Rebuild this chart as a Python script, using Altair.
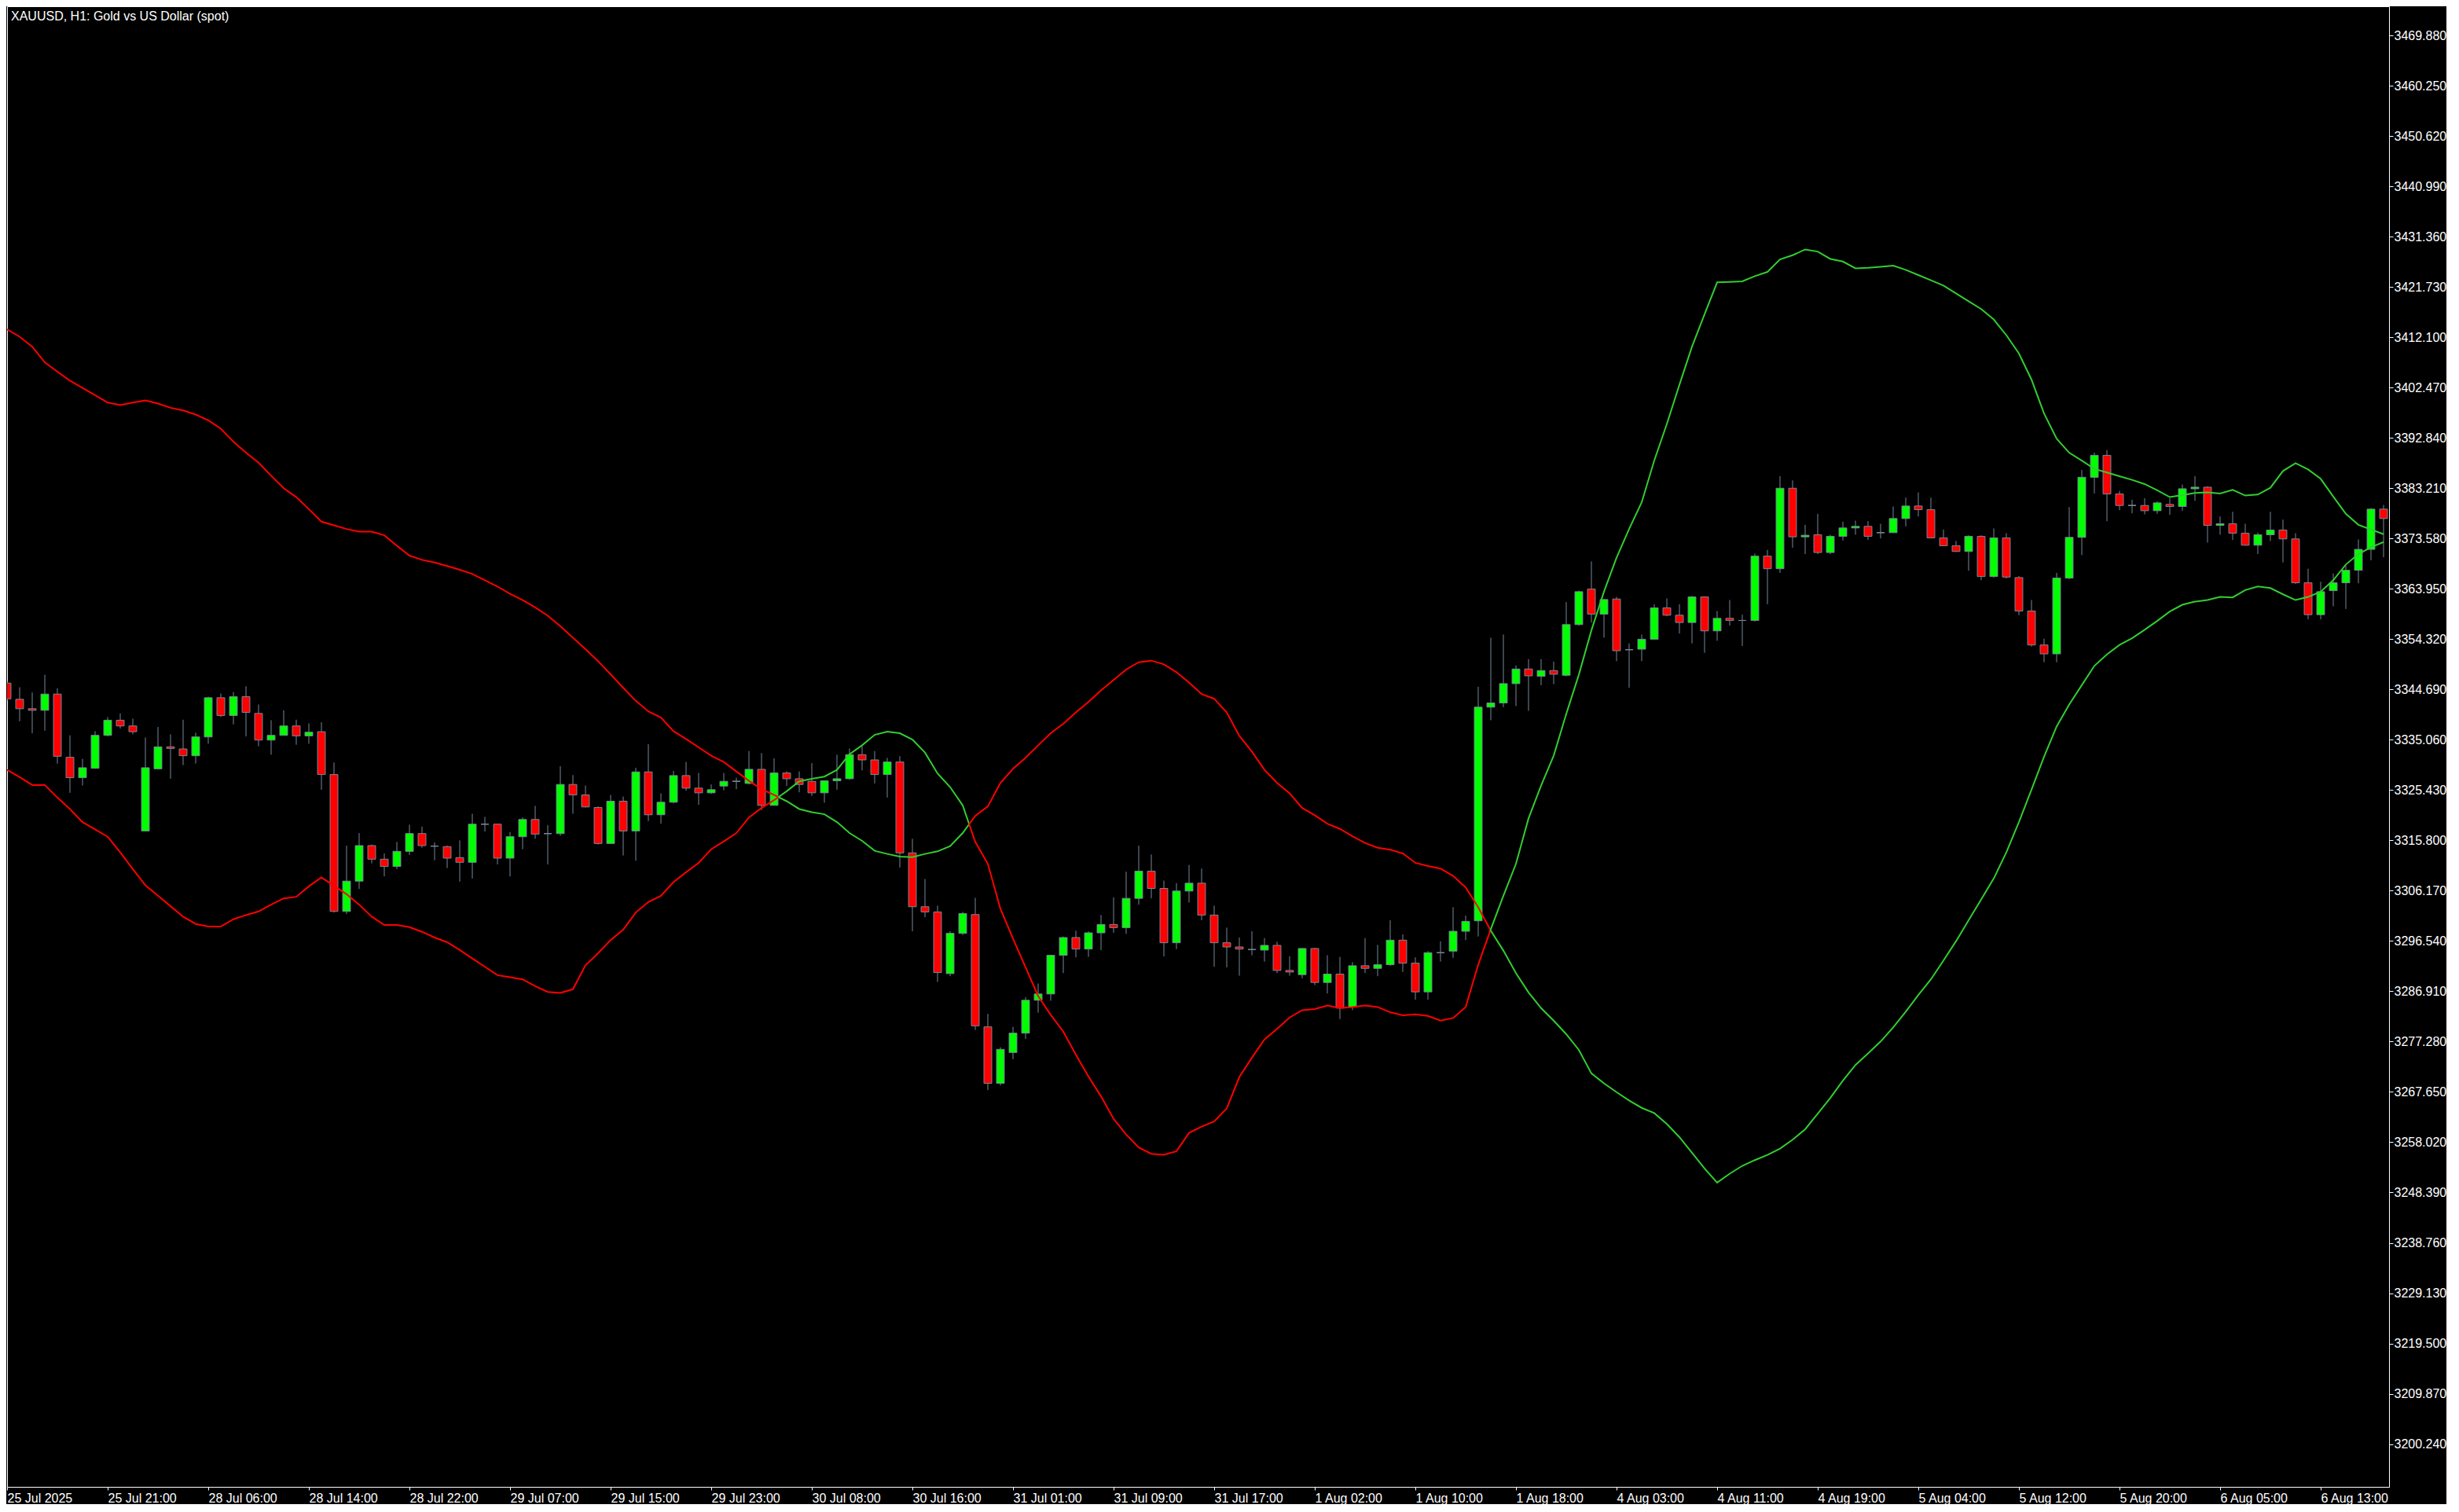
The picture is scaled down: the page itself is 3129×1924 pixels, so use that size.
import json
import altair as alt
import pandas as pd

TITLE = "XAUUSD, H1:  Gold vs US Dollar (spot)"

X_LABELS = ["25 Jul 2025", "25 Jul 21:00", "28 Jul 06:00", "28 Jul 14:00", "28 Jul 22:00",
            "29 Jul 07:00", "29 Jul 15:00", "29 Jul 23:00", "30 Jul 08:00", "30 Jul 16:00",
            "31 Jul 01:00", "31 Jul 09:00", "31 Jul 17:00", "1 Aug 02:00", "1 Aug 10:00",
            "1 Aug 18:00", "4 Aug 03:00", "4 Aug 11:00", "4 Aug 19:00", "5 Aug 04:00",
            "5 Aug 12:00", "5 Aug 20:00", "6 Aug 05:00", "6 Aug 13:00"]
X_LABEL_BARS = [0, 8, 16, 24, 32, 40, 48, 56, 64, 72, 80, 88, 96, 104, 112, 120,
                128, 136, 144, 152, 160, 168, 176, 184]

Y_TICKS = [3469.880, 3460.250, 3450.620, 3440.990, 3431.360, 3421.730, 3412.100, 3402.470,
           3392.840, 3383.210, 3373.580, 3363.950, 3354.320, 3344.690, 3335.060, 3325.430,
           3315.800, 3306.170, 3296.540, 3286.910, 3277.280, 3267.650, 3258.020, 3248.390,
           3238.760, 3229.130, 3219.500, 3209.870, 3200.240]

OPEN = [
    3345.9, 3342.8, 3341.0, 3340.7, 3343.8, 3331.7, 3327.8, 3329.6, 3335.9, 3338.8,
    3337.7, 3317.6, 3329.5, 3333.7, 3333.3, 3332.0, 3335.6, 3343.1, 3339.7, 3343.3,
    3340.1, 3335.0, 3335.9, 3337.7, 3335.8, 3336.6, 3328.4, 3302.2, 3308.0, 3314.8,
    3312.2, 3310.8, 3313.7, 3317.1, 3314.7, 3314.6, 3312.5, 3311.6, 3318.9, 3318.9,
    3312.4, 3316.5, 3319.8, 3317.1, 3317.1, 3326.5, 3324.5, 3322.1, 3315.2, 3323.3,
    3317.6, 3328.9, 3320.7, 3323.1, 3328.2, 3325.8, 3324.9, 3326.2, 3327.1, 3326.7,
    3329.4, 3322.5, 3328.7, 3327.6, 3327.1, 3324.9, 3327.2, 3327.6, 3332.2, 3331.2,
    3328.4, 3330.8, 3313.4, 3303.1, 3302.1, 3290.3, 3298.0, 3301.6, 3280.1, 3269.3,
    3275.2, 3278.9, 3285.2, 3286.4, 3293.8, 3297.2, 3295.0, 3298.1, 3299.7, 3299.1,
    3304.7, 3309.9, 3306.6, 3296.2, 3306.1, 3307.6, 3301.5, 3296.2, 3295.4, 3294.9,
    3294.8, 3295.7, 3290.9, 3290.1, 3295.1, 3288.6, 3290.2, 3283.9, 3291.8, 3291.3,
    3292.0, 3296.7, 3292.3, 3286.8, 3294.3, 3294.6, 3298.4, 3300.4, 3341.3, 3342.1,
    3345.8, 3348.6, 3347.2, 3348.3, 3347.4, 3357.1, 3363.9, 3359.1, 3362.0, 3352.3,
    3352.4, 3354.3, 3360.3, 3358.9, 3357.5, 3362.4, 3355.9, 3358.3, 3357.9, 3357.9,
    3370.2, 3367.8, 3383.2, 3373.9, 3374.3, 3370.9, 3374.0, 3375.6, 3375.9, 3374.7,
    3374.7, 3377.4, 3379.8, 3379.1, 3373.7, 3372.2, 3371.1, 3374.0, 3366.3, 3373.7,
    3366.1, 3359.7, 3353.2, 3351.5, 3366.0, 3373.8, 3385.3, 3389.5, 3382.1, 3379.9,
    3379.9, 3378.9, 3380.1, 3379.7, 3383.1, 3383.4, 3376.1, 3376.4, 3374.6, 3372.3,
    3374.3, 3375.2, 3373.5, 3365.1, 3359.0, 3363.6, 3365.1, 3367.5, 3371.5, 3379.2,
]

HIGH = [
    3346.3, 3345.1, 3344.1, 3347.5, 3344.9, 3335.9, 3331.4, 3336.7, 3339.4, 3340.1,
    3339.1, 3335.5, 3337.5, 3336.1, 3338.9, 3336.4, 3343.3, 3343.9, 3344.2, 3345.3,
    3341.8, 3338.8, 3340.7, 3338.9, 3338.2, 3338.4, 3330.7, 3314.8, 3317.2, 3315.0,
    3313.3, 3315.5, 3318.8, 3318.4, 3315.4, 3314.8, 3315.8, 3320.9, 3320.3, 3319.0,
    3317.4, 3320.2, 3322.4, 3318.7, 3330.0, 3328.3, 3326.3, 3322.3, 3324.5, 3324.2,
    3329.7, 3334.2, 3324.8, 3329.1, 3330.8, 3328.7, 3326.5, 3328.7, 3327.8, 3332.9,
    3332.5, 3331.5, 3329.0, 3329.0, 3330.6, 3327.3, 3332.2, 3333.4, 3333.8, 3332.9,
    3331.6, 3331.9, 3316.1, 3308.4, 3303.3, 3298.4, 3302.1, 3304.8, 3282.6, 3276.2,
    3280.1, 3285.8, 3288.4, 3293.9, 3297.4, 3298.5, 3298.4, 3301.5, 3304.9, 3309.8,
    3314.8, 3313.1, 3308.1, 3307.6, 3311.1, 3310.4, 3303.3, 3299.1, 3297.2, 3298.4,
    3297.1, 3296.4, 3293.6, 3295.2, 3295.2, 3293.8, 3293.5, 3292.5, 3297.1, 3295.8,
    3300.5, 3297.8, 3293.4, 3294.6, 3296.5, 3303.0, 3301.4, 3345.2, 3354.6, 3355.2,
    3349.3, 3350.5, 3350.5, 3350.0, 3361.4, 3363.6, 3369.2, 3362.0, 3362.4, 3353.5,
    3355.2, 3361.0, 3362.1, 3361.0, 3362.6, 3362.5, 3359.7, 3361.8, 3359.0, 3370.7,
    3371.4, 3385.5, 3384.7, 3376.2, 3378.3, 3374.3, 3376.8, 3377.0, 3376.9, 3376.4,
    3379.7, 3381.4, 3382.4, 3381.4, 3375.3, 3373.1, 3374.2, 3374.2, 3375.5, 3374.6,
    3366.4, 3361.8, 3354.4, 3367.0, 3379.6, 3386.7, 3390.0, 3390.5, 3382.7, 3381.0,
    3381.3, 3380.7, 3381.3, 3383.9, 3385.5, 3383.6, 3377.8, 3378.7, 3376.4, 3374.7,
    3378.7, 3377.2, 3374.6, 3367.8, 3365.3, 3366.9, 3368.4, 3373.4, 3379.4, 3380.0,
]

LOW = [
    3342.5, 3338.6, 3336.3, 3336.8, 3330.5, 3324.9, 3326.3, 3329.5, 3335.7, 3337.2,
    3336.1, 3317.5, 3329.4, 3327.6, 3330.2, 3330.5, 3334.3, 3339.4, 3338.0, 3335.7,
    3333.8, 3332.2, 3335.9, 3334.1, 3334.3, 3325.5, 3302.0, 3301.7, 3306.5, 3311.4,
    3308.9, 3310.3, 3313.0, 3314.4, 3312.0, 3310.5, 3307.9, 3308.5, 3317.5, 3311.2,
    3308.9, 3314.1, 3316.1, 3311.2, 3316.7, 3320.9, 3322.1, 3315.0, 3315.2, 3312.9,
    3311.9, 3319.5, 3319.0, 3322.9, 3325.3, 3322.6, 3324.7, 3325.4, 3325.6, 3326.5,
    3321.6, 3322.5, 3326.2, 3325.0, 3324.3, 3323.0, 3325.5, 3327.4, 3329.2, 3326.7,
    3324.0, 3310.6, 3298.4, 3301.1, 3288.7, 3289.8, 3297.7, 3279.5, 3268.0, 3268.9,
    3273.9, 3277.8, 3282.8, 3285.1, 3290.4, 3293.4, 3293.5, 3294.8, 3298.1, 3297.9,
    3303.5, 3304.7, 3293.6, 3295.0, 3303.9, 3300.5, 3291.6, 3291.5, 3289.9, 3293.8,
    3292.6, 3290.4, 3289.9, 3289.4, 3288.1, 3286.5, 3281.6, 3283.3, 3290.4, 3289.8,
    3291.8, 3290.6, 3285.3, 3285.3, 3292.6, 3293.3, 3296.7, 3297.4, 3338.8, 3341.3,
    3341.5, 3340.6, 3345.5, 3345.7, 3347.2, 3356.9, 3357.5, 3354.6, 3350.1, 3345.0,
    3350.1, 3354.3, 3358.7, 3355.4, 3353.5, 3351.7, 3354.0, 3356.9, 3353.0, 3357.7,
    3361.0, 3367.0, 3371.8, 3370.6, 3370.6, 3370.6, 3373.2, 3374.3, 3373.3, 3373.6,
    3374.7, 3375.9, 3377.8, 3373.6, 3372.1, 3371.0, 3367.4, 3365.6, 3366.1, 3365.9,
    3358.9, 3352.9, 3349.9, 3349.9, 3365.8, 3370.4, 3382.2, 3376.9, 3379.0, 3378.4,
    3378.2, 3378.3, 3378.1, 3378.9, 3380.8, 3372.8, 3374.3, 3373.3, 3372.2, 3370.6,
    3373.1, 3369.0, 3364.9, 3358.1, 3358.1, 3360.6, 3360.1, 3365.0, 3369.4, 3370.0,
]

CLOSE = [
    3342.9, 3341.0, 3340.7, 3343.8, 3331.9, 3327.8, 3329.7, 3335.9, 3338.8, 3337.7,
    3336.6, 3329.7, 3333.7, 3333.4, 3332.0, 3335.6, 3343.1, 3339.7, 3343.3, 3340.3,
    3335.0, 3335.9, 3337.7, 3335.8, 3336.5, 3328.4, 3302.2, 3308.0, 3314.8, 3312.2,
    3310.8, 3313.7, 3317.1, 3314.8, 3314.7, 3312.4, 3311.6, 3318.9, 3318.9, 3312.4,
    3316.5, 3319.8, 3317.0, 3317.1, 3326.5, 3324.5, 3322.2, 3315.2, 3323.3, 3317.6,
    3328.9, 3320.7, 3323.1, 3328.2, 3325.8, 3324.9, 3325.5, 3327.1, 3327.1, 3329.4,
    3322.5, 3328.7, 3327.6, 3326.5, 3324.9, 3327.2, 3327.6, 3332.2, 3331.2, 3328.4,
    3330.8, 3313.4, 3303.1, 3302.1, 3290.5, 3298.0, 3301.8, 3280.3, 3269.3, 3275.8,
    3278.9, 3285.2, 3286.4, 3293.8, 3297.2, 3295.0, 3298.1, 3299.7, 3299.1, 3304.7,
    3309.9, 3306.6, 3296.2, 3306.1, 3307.6, 3301.5, 3296.2, 3295.4, 3295.0, 3294.9,
    3295.7, 3290.9, 3290.6, 3295.1, 3288.6, 3290.2, 3283.7, 3291.8, 3291.3, 3292.0,
    3296.7, 3292.3, 3286.8, 3294.3, 3294.3, 3298.4, 3300.3, 3341.3, 3342.1, 3345.8,
    3348.6, 3347.3, 3348.3, 3347.6, 3357.1, 3363.4, 3359.1, 3361.9, 3352.1, 3352.3,
    3354.3, 3360.3, 3358.9, 3357.5, 3362.4, 3355.9, 3358.3, 3357.9, 3357.9, 3370.2,
    3367.8, 3383.2, 3373.9, 3374.2, 3370.9, 3374.0, 3375.6, 3375.9, 3374.0, 3374.7,
    3377.4, 3379.8, 3379.1, 3373.7, 3372.2, 3371.1, 3374.0, 3366.3, 3373.7, 3366.2,
    3359.7, 3353.2, 3351.5, 3366.0, 3373.8, 3385.3, 3389.5, 3382.1, 3379.9, 3379.9,
    3378.9, 3380.4, 3379.7, 3383.1, 3383.4, 3376.1, 3376.4, 3374.6, 3372.3, 3374.3,
    3375.2, 3373.5, 3365.1, 3359.0, 3363.4, 3365.1, 3367.5, 3371.5, 3379.2, 3377.4,
]

# indicator line P (upper red at start) and line Q (lower red at start)
LINE_P = [
    3413.6, 3412.2, 3410.3, 3407.3, 3405.5, 3403.8, 3402.4, 3401.0, 3399.6, 3399.1,
    3399.6, 3400.0, 3399.4, 3398.6, 3398.1, 3397.3, 3396.2, 3394.6, 3392.1, 3390.0,
    3388.1, 3385.6, 3383.2, 3381.5, 3379.2, 3376.8, 3376.1, 3375.4, 3374.9, 3374.9,
    3374.2, 3372.2, 3370.3, 3369.5, 3369.0, 3368.3, 3367.6, 3366.8, 3365.6, 3364.4,
    3363.0, 3361.8, 3360.4, 3358.8, 3356.8, 3354.6, 3352.4, 3350.1, 3347.6, 3345.0,
    3342.5, 3340.5, 3339.3, 3336.7, 3335.2, 3333.6, 3332.0, 3330.8, 3329.0, 3327.2,
    3325.6, 3324.5, 3323.3, 3321.8, 3321.2, 3320.8, 3319.3, 3317.2, 3315.7, 3313.8,
    3313.2, 3312.7, 3312.6, 3313.2, 3313.7, 3314.7, 3317.2, 3320.5, 3322.3, 3326.8,
    3329.5, 3331.6, 3334.0, 3336.3, 3338.1, 3340.3, 3342.3, 3344.5, 3346.5, 3348.5,
    3349.9, 3350.2, 3349.5, 3348.0, 3346.0, 3343.8, 3342.9, 3340.3, 3335.8, 3332.8,
    3329.3, 3326.8, 3324.8, 3322.0, 3320.6, 3319.0, 3318.0, 3316.6, 3315.3, 3314.4,
    3314.0, 3313.3, 3311.5, 3310.9, 3310.4, 3309.0, 3306.8, 3303.0, 3298.5, 3294.7,
    3290.4, 3286.7, 3283.7, 3281.3, 3278.7, 3275.7, 3271.2, 3269.3, 3267.6, 3266.0,
    3264.6, 3263.6, 3261.5, 3259.0, 3256.0, 3253.0, 3250.3, 3252.0, 3253.5, 3254.6,
    3255.6, 3256.8, 3258.5, 3260.5, 3263.5, 3266.5, 3269.8, 3272.8, 3275.0, 3277.3,
    3280.0, 3283.0, 3286.2, 3289.2, 3292.8, 3296.5, 3300.5, 3304.5, 3308.5, 3313.5,
    3319.3, 3325.5, 3331.8, 3337.6, 3341.8, 3345.5, 3349.2, 3351.4, 3353.2, 3354.5,
    3356.1, 3357.8, 3359.6, 3360.9, 3361.5, 3361.8, 3362.4, 3362.3, 3363.7, 3364.4,
    3364.1, 3362.9, 3361.8, 3362.4, 3363.4, 3365.6, 3368.6, 3370.6, 3371.9, 3372.9,
]

LINE_Q = [
    3329.3, 3327.9, 3326.4, 3326.4, 3324.0, 3321.8, 3319.3, 3317.9, 3316.5, 3313.5,
    3310.3, 3307.2, 3305.2, 3303.2, 3301.2, 3299.8, 3299.3, 3299.3, 3300.7, 3301.5,
    3302.2, 3303.5, 3304.7, 3305.0, 3307.0, 3308.7, 3307.1, 3305.5, 3303.5, 3301.2,
    3299.6, 3299.6, 3299.2, 3298.3, 3297.2, 3296.3, 3294.8, 3293.2, 3291.6, 3290.0,
    3289.6, 3289.2, 3287.9, 3286.8, 3286.6, 3287.3, 3291.9, 3294.2, 3296.7, 3298.7,
    3302.0, 3304.0, 3305.2, 3307.8, 3309.7, 3311.5, 3314.1, 3315.6, 3317.2, 3320.2,
    3322.0, 3323.5, 3325.2, 3327.1, 3327.6, 3328.0, 3329.3, 3332.3, 3334.0, 3336.0,
    3336.6, 3336.3, 3335.1, 3332.6, 3328.6, 3326.0, 3322.5, 3315.5, 3311.3, 3302.7,
    3297.0, 3291.5, 3286.0, 3282.4, 3279.2, 3274.8, 3270.6, 3266.8, 3262.5, 3259.5,
    3257.0, 3255.8, 3255.6, 3256.3, 3259.8, 3261.0, 3262.0, 3264.5, 3270.5, 3274.2,
    3277.7, 3279.7, 3281.9, 3283.3, 3283.5, 3284.2, 3283.7, 3283.9, 3284.2, 3283.9,
    3282.9, 3282.3, 3282.5, 3282.2, 3281.3, 3281.8, 3283.9, 3292.0, 3298.8, 3305.2,
    3311.3, 3320.0, 3326.3, 3332.0, 3340.0, 3347.5, 3356.0, 3363.4, 3369.9, 3375.4,
    3380.5, 3388.5, 3395.5, 3403.0, 3410.3, 3416.5, 3422.6, 3422.7, 3422.8, 3423.8,
    3424.6, 3427.0, 3427.8, 3428.9, 3428.5, 3427.1, 3426.6, 3425.3, 3425.4, 3425.6,
    3425.8, 3425.0, 3424.0, 3423.0, 3422.0, 3420.5, 3419.0, 3417.5, 3415.5, 3412.5,
    3409.0, 3404.0, 3397.5, 3392.7, 3390.0, 3388.5, 3386.9, 3386.2, 3385.5, 3384.8,
    3384.0, 3382.8, 3381.5, 3381.9, 3382.3, 3382.4, 3382.2, 3382.9, 3381.8, 3382.0,
    3383.3, 3386.5, 3388.0, 3386.8, 3385.0, 3381.6, 3378.3, 3376.2, 3375.3, 3374.4,
]

# ---------------------------------------------------------------- tables
n = len(OPEN)
candles = pd.DataFrame({"i": list(range(n)), "o": OPEN, "h": HIGH, "l": LOW, "c": CLOSE})
candles["dir"] = ["up" if c > o else ("down" if c < o else "flat") for o, c in zip(OPEN, CLOSE)]
HALF = 0.31
candles["x0"] = candles["i"] - HALF
candles["x1"] = candles["i"] + HALF
flat = candles[candles["dir"] == "flat"]

# line segments coloured by which line is on top (red: P above Q, green: Q above P)
rows = []
seg = 0
prev = None
for i in range(n):
    reg = "red" if LINE_P[i] > LINE_Q[i] else "green"
    if prev is not None and reg != prev:
        d0 = LINE_P[i - 1] - LINE_Q[i - 1]
        d1 = LINE_P[i] - LINE_Q[i]
        t = d0 / (d0 - d1)
        xc = i - 1 + t
        vc = LINE_P[i - 1] + t * (LINE_P[i] - LINE_P[i - 1])
        for nm in ("P", "Q"):
            rows.append({"x": xc, "v": vc, "key": f"{nm}{seg}", "reg": prev})
        seg += 1
        for nm in ("P", "Q"):
            rows.append({"x": xc, "v": vc, "key": f"{nm}{seg}", "reg": reg})
    rows.append({"x": i, "v": LINE_P[i], "key": f"P{seg}", "reg": reg})
    rows.append({"x": i, "v": LINE_Q[i], "key": f"Q{seg}", "reg": reg})
    prev = reg
lines = pd.DataFrame(rows)

# ---------------------------------------------------------------- scales / axes
W = 3031
H = 1884
PX_PER_BAR = 16.0
PX_PER_UNIT = 6.648
Y_TOP = 3475.45
xs = alt.Scale(domain=[0, W / PX_PER_BAR], nice=False, zero=False)
ys = alt.Scale(domain=[Y_TOP - H / PX_PER_UNIT, Y_TOP], nice=False, zero=False)

FONT = "Liberation Sans"
x_expr = json.dumps(X_LABELS) + "[round(datum.value / 8)]"
x_axis = alt.Axis(values=X_LABEL_BARS, labelExpr=x_expr, labelAlign="left", labelBaseline="top",
                  tickSize=4, labelPadding=2, labelColor="white", tickColor="white",
                  domainColor="white", labelFont=FONT, labelFontSize=16, grid=False,
                  title=None, labelOverlap=False, labelFlush=False, labelBound=False)
y_axis = alt.Axis(orient="right", values=Y_TICKS, format=".3f", tickSize=5, labelPadding=1,
                  labelColor="white", tickColor="white", domainColor="white", labelFont=FONT,
                  labelFontSize=16, grid=False, title=None, labelOverlap=False,
                  labelFlush=False, labelBound=False)

WICK = "#778899"

wicks = alt.Chart(candles).mark_rule(color=WICK, strokeWidth=1, clip=True).encode(
    x=alt.X("i:Q", scale=xs, axis=x_axis),
    y=alt.Y("l:Q", scale=ys, axis=y_axis),
    y2="h:Q",
)

bodies = alt.Chart(candles).mark_rect(stroke=WICK, strokeWidth=1, clip=True).encode(
    x=alt.X("x0:Q", scale=xs, axis=x_axis),
    x2="x1:Q",
    y=alt.Y("o:Q", scale=ys, axis=y_axis),
    y2="c:Q",
    fill=alt.Fill("dir:N", scale=alt.Scale(domain=["up", "down", "flat"],
                                           range=["#00FF00", "#FF0000", WICK]), legend=None),
)

dojis = alt.Chart(flat).mark_rule(color=WICK, strokeWidth=1, clip=True).encode(
    x=alt.X("x0:Q", scale=xs, axis=x_axis),
    x2="x1:Q",
    y=alt.Y("o:Q", scale=ys, axis=y_axis),
)

band = alt.Chart(lines).mark_line(strokeWidth=2, clip=True).encode(
    x=alt.X("x:Q", scale=xs, axis=x_axis),
    y=alt.Y("v:Q", scale=ys, axis=y_axis),
    color=alt.Color("reg:N", scale=alt.Scale(domain=["red", "green"],
                                             range=["#FF0000", "#32CD32"]), legend=None),
    detail="key:N",
    order="x:Q",
)

title = alt.Chart(pd.DataFrame({"t": [TITLE]})).mark_text(
    align="left", baseline="alphabetic", color="white", font=FONT, fontSize=16
).encode(x=alt.value(5), y=alt.value(18), text="t:N")

chart = alt.layer(wicks, bodies, dojis, band, title).properties(
    width=W, height=H, padding=0, background="#000000"
).configure_view(stroke="white", strokeWidth=1, fill="#000000")

chart.save("out.html", embed_options={"renderer": "svg", "actions": False})
